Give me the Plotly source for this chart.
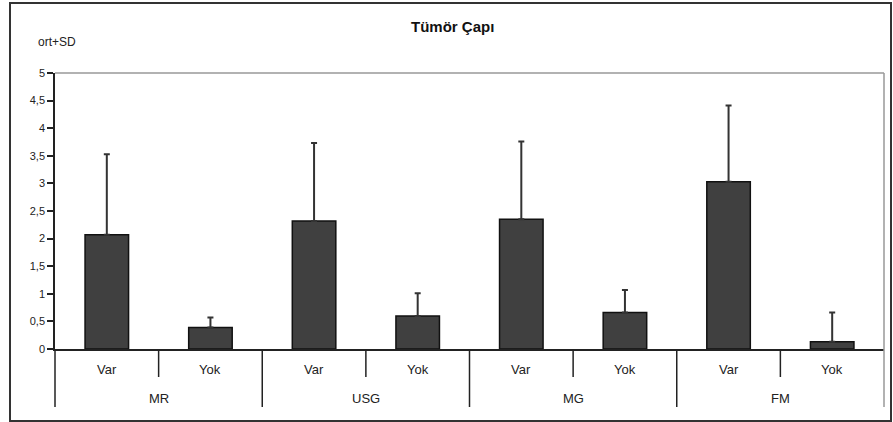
import plotly.graph_objects as go

groups = ["MR", "USG", "MG", "FM"]
subcats = ["Var", "Yok"]
means = [2.07, 0.39, 2.32, 0.60, 2.35, 0.66, 3.03, 0.13]
sds = [1.46, 0.18, 1.41, 0.41, 1.41, 0.41, 1.38, 0.53]
yticks = [0, 0.5, 1, 1.5, 2, 2.5, 3, 3.5, 4, 4.5, 5]
yticklabels = ["0", "0,5", "1", "1,5", "2", "2,5", "3", "3,5", "4", "4,5", "5"]

W, H = 893, 422
L, R, T, B = 55, 884, 73, 349  # plot area pixel bounds
pw, ph = R - L, B - T


def px(x):
    return (x - L) / pw


def py(y):
    return (B - y) / ph


n = len(means)
xs = list(range(n))
labels = [subcats[i % 2] for i in range(n)]

FONT = "Liberation Sans, Arial, sans-serif"

fig = go.Figure()
fig.add_trace(go.Bar(
    x=xs, y=means, width=0.42,
    marker=dict(color="#404040", line=dict(color="#111111", width=1.5)),
    error_y=dict(type="data", array=sds, arrayminus=[0] * n, symmetric=False,
                 color="#333333", thickness=2, width=3),
    showlegend=False,
))

shapes = []
# outer chart border
shapes.append(dict(type="rect", xref="paper", yref="paper",
                   x0=px(10), x1=px(891), y0=py(421), y1=py(3),
                   line=dict(color="#333333", width=2), layer="below"))
# plot area top and right borders
shapes.append(dict(type="line", xref="paper", yref="paper", x0=0, x1=1, y0=1, y1=1,
                   line=dict(color="#999999", width=1.5)))
shapes.append(dict(type="line", xref="paper", yref="paper", x0=1, x1=1, y0=py(407), y1=1,
                   line=dict(color="#999999", width=1.5)))
# category dividers
for k in range(0, n):
    y0 = py(407) if k % 2 == 0 else py(377)
    shapes.append(dict(type="line", xref="paper", yref="paper",
                       x0=k / n, x1=k / n, y0=y0, y1=0,
                       line=dict(color="#222222", width=1.5)))

annotations = []
for i, lab in enumerate(labels):
    annotations.append(dict(x=i, xref="x", y=py(369), yref="paper", text=lab,
                            showarrow=False, font=dict(size=13, color="#222", family=FONT),
                            xanchor="center", yanchor="middle"))
for g, name in enumerate(groups):
    annotations.append(dict(x=2 * g + 0.5, xref="x", y=py(398), yref="paper", text=name,
                            showarrow=False, font=dict(size=13, color="#222", family=FONT),
                            xanchor="center", yanchor="middle"))
annotations.append(dict(x=px(452), xref="paper", y=py(27), yref="paper",
                        text="<b>Tümör Çapı</b>", showarrow=False,
                        font=dict(size=15, color="#111", family=FONT),
                        xanchor="center", yanchor="middle"))
annotations.append(dict(x=px(57), xref="paper", y=py(42), yref="paper",
                        text="ort+SD", showarrow=False,
                        font=dict(size=12, color="#222", family=FONT),
                        xanchor="center", yanchor="middle"))

fig.update_layout(
    width=W, height=H,
    margin=dict(l=L, r=W - R, t=T, b=H - B, pad=0),
    paper_bgcolor="white", plot_bgcolor="white",
    font=dict(family=FONT, size=11, color="#222"),
    shapes=shapes, annotations=annotations,
    xaxis=dict(range=[-0.5, n - 0.5], showticklabels=False, ticks="",
               showgrid=False, zeroline=False, showline=True,
               linecolor="#222222", linewidth=1.5, fixedrange=True),
    yaxis=dict(range=[0, 5], tickvals=yticks, ticktext=yticklabels,
               ticks="outside", ticklen=6, tickcolor="#222", tickwidth=1.5,
               showgrid=False, zeroline=False, showline=True,
               linecolor="#222222", linewidth=1.5,
               tickfont=dict(size=11, color="#222", family=FONT), fixedrange=True),
    bargap=0.5,
)

fig.write_html("out.html", config={"displayModeBar": False},
               post_script="document.body.style.margin='0';document.body.style.overflow='hidden';")
